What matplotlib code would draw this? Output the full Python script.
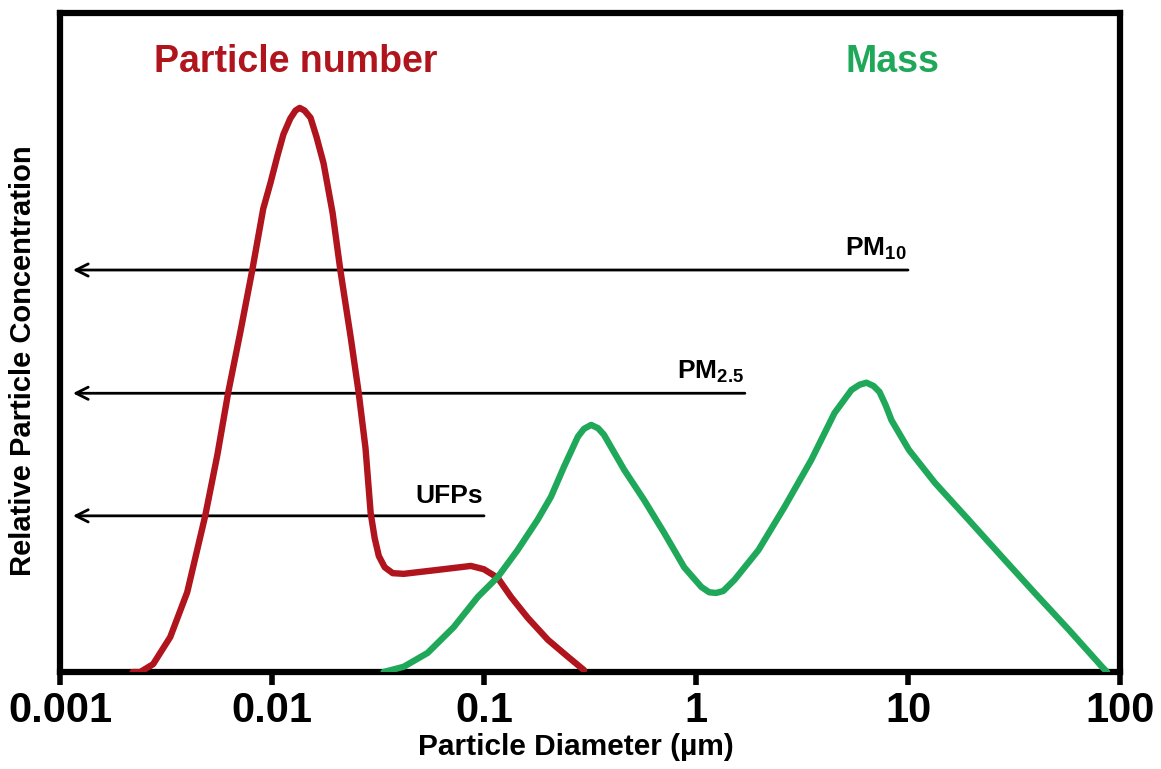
import matplotlib
matplotlib.use("Agg")
import matplotlib.pyplot as plt

plt.rcParams['font.family'] = ['Liberation Sans', 'DejaVu Sans']
plt.rcParams['font.weight'] = 'bold'
plt.rcParams['mathtext.fontset'] = 'custom'
plt.rcParams['mathtext.rm'] = 'Liberation Sans:bold'
plt.rcParams['mathtext.it'] = 'Liberation Sans:bold'
plt.rcParams['mathtext.bf'] = 'Liberation Sans:bold'

# Particle number size distribution (diameter in um, relative concentration)
number_diam = [0.0022, 0.00239, 0.00275, 0.00331, 0.00398, 0.00484, 0.00552, 0.00622,
               0.00710, 0.00807, 0.00909, 0.00983, 0.0106, 0.01132, 0.0122, 0.01291,
               0.0135, 0.01423, 0.0152, 0.01621, 0.0175, 0.0193, 0.0210, 0.0235,
               0.0256, 0.0276, 0.0292, 0.0305, 0.0319, 0.0340, 0.0371, 0.0418,
               0.0605, 0.0867, 0.0998, 0.116, 0.134, 0.161, 0.200, 0.249, 0.296]
number_conc = [0.0, 0.0, 0.012, 0.053, 0.121, 0.237, 0.329, 0.425,
               0.517, 0.610, 0.703, 0.742, 0.783, 0.816, 0.840, 0.852,
               0.856, 0.852, 0.841, 0.812, 0.772, 0.697, 0.610, 0.508,
               0.425, 0.340, 0.241, 0.203, 0.176, 0.159, 0.150, 0.149,
               0.155, 0.161, 0.156, 0.143, 0.114, 0.082, 0.049, 0.023, 0.003]

# Particle mass size distribution
mass_diam = [0.0336, 0.0418, 0.0542, 0.0719, 0.0935, 0.116, 0.144, 0.179, 0.207,
             0.238, 0.277, 0.296, 0.320, 0.345, 0.368, 0.458, 0.569, 0.708, 0.879,
             1.06, 1.154, 1.245, 1.345, 1.52, 1.97, 2.61, 3.50, 4.50, 5.41, 5.91,
             6.37, 6.88, 7.34, 7.84, 8.36, 10.1, 13.4, 19.3, 27.7, 39.6, 57.4, 82.2, 86.9]
mass_conc = [0.0, 0.008, 0.029, 0.068, 0.114, 0.144, 0.185, 0.231, 0.266,
             0.311, 0.357, 0.369, 0.375, 0.370, 0.360, 0.307, 0.261, 0.211, 0.159,
             0.129, 0.121, 0.120, 0.123, 0.140, 0.185, 0.250, 0.322, 0.393, 0.428, 0.436,
             0.439, 0.434, 0.425, 0.405, 0.382, 0.337, 0.287, 0.231, 0.175, 0.120, 0.064, 0.008, 0.0]

# Size-fraction arrows: label, upper cut diameter (um), level
fraction_labels = ['PM$_{10}$', 'PM$_{2.5}$', 'UFPs']
fraction_cut = [10.0, 1.7, 0.1]
fraction_level = [0.610, 0.423, 0.237]
arrow_tip = 0.00115

x_ticks = [0.001, 0.01, 0.1, 1, 10, 100]
x_ticklabels = ['0.001', '0.01', '0.1', '1', '10', '100']

red = '#b0141c'
green = '#1fa85a'

fig = plt.figure(figsize=(11.61, 7.69), dpi=100)
ax = fig.add_axes([0.0517, 0.1261, 0.9130, 0.857])
ax.set_xscale('log')
ax.set_xlim(0.001, 100)
ax.set_ylim(0, 1)

ax.plot(number_diam, number_conc, color=red, lw=4.6, solid_capstyle='round',
        solid_joinstyle='round', zorder=3)
ax.plot(mass_diam, mass_conc, color=green, lw=4.6, solid_capstyle='round',
        solid_joinstyle='round', zorder=3)

for lab, cut, lev in zip(fraction_labels, fraction_cut, fraction_level):
    ax.annotate('', xy=(arrow_tip, lev), xytext=(cut, lev),
                arrowprops=dict(arrowstyle='->', color='black', lw=2.0,
                                mutation_scale=22, shrinkA=0, shrinkB=0),
                zorder=2)
    ax.text(cut * 0.985, lev + 0.012, lab, ha='right', va='bottom',
            fontsize=19, fontweight='bold', color='black')

ax.text(0.0129, 0.926, 'Particle number', ha='center', va='center',
        fontsize=27, fontweight='bold', color=red)
ax.text(8.4, 0.926, 'Mass', ha='center', va='center',
        fontsize=27, fontweight='bold', color=green)

ax.set_xticks(x_ticks)
ax.set_xticklabels(x_ticklabels)
ax.minorticks_off()
ax.set_yticks([])
ax.tick_params(axis='x', direction='out', length=9, width=4, labelsize=30, pad=5)
for lbl in ax.get_xticklabels():
    lbl.set_fontweight('bold')

for sp in ax.spines.values():
    sp.set_linewidth(4.5)
    sp.set_color('black')

ax.set_xlabel('Particle Diameter (µm)', fontsize=21.5, fontweight='bold')
ax.set_ylabel('Relative Particle Concentration', fontsize=21, fontweight='bold')
ax.xaxis.set_label_coords(0.487, -0.092)
ax.yaxis.set_label_coords(-0.022, 0.472)

fig.savefig('out.png', dpi=100)
